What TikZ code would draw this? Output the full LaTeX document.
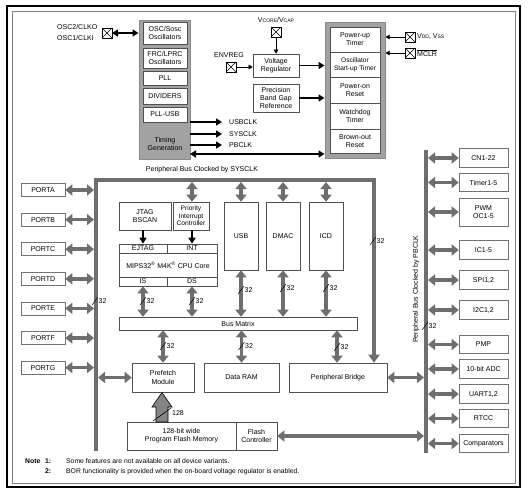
\documentclass[tikz,border=0pt]{standalone}
\usepackage{fontspec}
\setmainfont{Liberation Sans}
\usetikzlibrary{arrows.meta}
\definecolor{busgray}{HTML}{6E6E6E}
\definecolor{boxline}{HTML}{505050}
\definecolor{contfill}{HTML}{A2A2A2}
\definecolor{contline}{HTML}{8A8A8A}
\newcommand\smc[1]{{\fontsize{5}{6}\selectfont #1}}
\newcommand\buswidth[4]{\draw[line width=0.5pt] (#2-3,#3+4) -- (#2+3,#3-4); \node[anchor=west] (#1) at (#2+3.5,#3) {#4};}
\begin{document}
\begin{tikzpicture}[x=1pt,y=-1pt,
  every node/.style={font=\fontsize{7}{8.2}\selectfont, inner sep=0pt},
  box/.style={draw=boxline, line width=0.6pt, fill=white, align=center},
  pbox/.style={box, draw=boxline!80, minimum width=44pt, minimum height=13pt},
  rbox/.style={box, draw=boxline!80, minimum width=49pt, minimum height=18.5pt},
  cont/.style={draw=contline, line width=1pt, fill=contfill},
  gbus/.style={draw=busgray, line width=4pt},
  garrow/.style={draw=busgray, line width=3.6pt, {Triangle[width=11pt,length=7pt]}-{Triangle[width=11pt,length=7pt]}},
  barrow/.style={draw=black, line width=1.6pt, -{Triangle[width=7pt,length=6pt]}},
  bdarrow/.style={draw=black, line width=1.6pt, {Triangle[width=7pt,length=6pt]}-{Triangle[width=7pt,length=6pt]}},
  tarrow/.style={draw=black, line width=0.5pt, -{Triangle[width=4.5pt,length=4pt]}},
  xpad/.style={draw=black, line width=0.5pt, minimum size=9.5pt, path picture={\draw[line width=0.5pt] (path picture bounding box.south west) -- (path picture bounding box.north east) (path picture bounding box.north west) -- (path picture bounding box.south east);}}
]
\useasboundingbox (0,0) rectangle (528,499);
% frames
\draw[line width=1.4pt] (7,6) rectangle (520,487);
\draw[draw=gray, line width=0.6pt] (12,11) rectangle (515,483);

% ---------- Timing block ----------
\node[cont, minimum width=51pt, minimum height=139pt] (timing) at (164.5,89.5) {};
\node[box, minimum width=44pt, minimum height=22pt] (osc) at (165,33) {OSC/Sosc\\Oscillators};
\node[box, minimum width=44pt, minimum height=20pt] (frc) at (165,58) {FRC/LPRC\\Oscillators};
\node[box, minimum width=44pt, minimum height=14pt] (pll) at (165,78) {PLL};
\node[box, minimum width=44pt, minimum height=16pt] (div) at (165,96) {DIVIDERS};
\node[box, minimum width=44pt, minimum height=15pt] (pllusb) at (165,114.5) {PLL-USB};
\node[align=center] (tgen) at (165,144) {Timing\\Generation};

\node[anchor=west] (osc2) at (57,27) {OSC2/CLKO};
\node[anchor=west] (osc1) at (57,37.5) {OSC1/CLKI};
\node[xpad] (xosc) at (107,33) {};
\draw[bdarrow] (xosc.east) -- (xosc.east -| timing.west);

\coordinate (usbs) at (190,122);
\coordinate (syss) at (190,134);
\coordinate (pbs) at (190,145);
\node[anchor=west] (usbclk) at (229,122) {USBCLK};
\node[anchor=west] (sysclk) at (229,134) {SYSCLK};
\node[anchor=west] (pbclk) at (229,145) {PBCLK};
\draw[barrow] (usbs) -- (222,122);
\draw[barrow] (syss) -- (222,134);
\draw[barrow] (pbs) -- (222,145);

% ---------- Regulator ----------
\node[box, minimum width=46pt, minimum height=23pt] (vreg) at (276,65.5) {Voltage\\Regulator};
\node[box, minimum width=46pt, minimum height=28pt] (pbgr) at (276,98) {Precision\\Band Gap\\Reference};
\node (vcorelab) at (276,20) {V\smc{CORE}/V\smc{CAP}};
\node[xpad] (xvcore) at (276,32) {};
\draw[tarrow] (xvcore.south) -- (vreg.north);
\node (envreg) at (229,55) {ENVREG};
\node[xpad] (xenv) at (231,67) {};
\draw[tarrow] (xenv.east) -- (xenv.east -| vreg.west);

% ---------- Reset block ----------
\node[cont, minimum width=60pt, minimum height=136pt] (reset) at (355,90) {};
\node[box, minimum width=50pt, minimum height=25pt] (put) at (355,39.5) {Power-up\\Timer};
\node[box, minimum width=50pt, minimum height=25pt, font=\fontsize{6.6}{8}\selectfont] (ost) at (355,64.5) {Oscillator\\Start-up Timer};
\node[box, minimum width=50pt, minimum height=26pt] (por) at (355,90) {Power-on\\Reset};
\node[box, minimum width=50pt, minimum height=26pt] (wdt) at (355,116) {Watchdog\\Timer};
\node[box, minimum width=50pt, minimum height=24pt] (bor) at (355,141) {Brown-out\\Reset};

\draw[barrow] (vreg.east) -- (vreg.east -| reset.west);
\draw[barrow] (pbgr.east) -- (pbgr.east -| reset.west);
\coordinate (tgr) at (190,154);
\draw[bdarrow] (tgr) -- (tgr -| reset.west);

\node[xpad] (xvdd) at (410,37) {};
\node[anchor=west] (vddlab) at (417,37) {V\smc{DD}, V\smc{SS}};
\draw[tarrow] (xvdd.west) -- (xvdd.west -| reset.east);
\node[xpad] (xmclr) at (410,53) {};
\node[anchor=west] (mclrlab) at (417,53) {$\overline{\mbox{MCLR}}$};
\draw[tarrow] (xmclr.west) -- (xmclr.west -| reset.east);

% ---------- SYSCLK bus ----------
\node (sysbuslab) at (202,170) {Peripheral Bus Clocked by SYSCLK};
\coordinate (bl) at (96,451);
\coordinate (tl) at (96,180);
\coordinate (tr) at (374,180);
\node[box, minimum width=98pt, minimum height=29pt] (pbridge) at (338,377.5) {Peripheral Bridge};
\draw[gbus, line join=miter, -{Triangle[width=11pt,length=8pt]}] (bl) -- (tl) -- (tr) -- (tr |- pbridge.north);
\buswidth{w1}{95}{301}{32}
\buswidth{w2}{373}{241}{32}

% ports
\foreach \n/\y in {A/190,B/219.6,C/249.2,D/278.8,E/308.4,F/338,G/367.6}{
  \node[pbox] (port\n) at (43,\y) {PORT\n};
  \draw[garrow] (port\n.east) -- (94,\y);
}

% ---------- CPU area ----------
\node[box, minimum width=52pt, minimum height=28pt] (jtag) at (145,216) {JTAG\\BSCAN};
\node[box, minimum width=36pt, minimum height=28pt, font=\fontsize{6.6}{7.4}\selectfont] (pic) at (191,216) {Priority\\Interrupt\\Controller};
\node[box, minimum width=48pt, minimum height=9pt] (ejtag) at (143,248.5) {EJTAG};
\node[box, minimum width=50pt, minimum height=9pt] (int) at (192,248.5) {INT};
\node[box, minimum width=98pt, minimum height=24pt] (core) at (168,265) {MIPS32\textsuperscript{\textregistered} M4K\textsuperscript{\textregistered} CPU Core};
\node[box, minimum width=48pt, minimum height=9pt] (is) at (143,281.5) {IS};
\node[box, minimum width=50pt, minimum height=9pt] (ds) at (192,281.5) {DS};
\draw[barrow] (jtag.south -| ejtag.north) -- (ejtag.north);
\draw[barrow] (pic.south -| int.north) -- (int.north);

\node[box, minimum width=34pt, minimum height=68pt] (usb) at (241,236) {USB};
\node[box, minimum width=34pt, minimum height=68pt] (dmac) at (283,236) {DMAC};
\node[box, minimum width=34pt, minimum height=68pt] (icd) at (326,236) {ICD};
\node[box, minimum width=238pt, minimum height=13pt] (bm) at (238,323.5) {Bus Matrix};

\foreach \b in {int,usb,dmac,icd}{
  \draw[garrow] (\b.north |- 0,182) -- (\b.north |- pic.north);
}
\draw[garrow] (is.south) -- (is.south |- bm.north);
\draw[garrow] (ds.south) -- (ds.south |- bm.north);
\draw[garrow] (usb.south) -- (usb.south |- bm.north);
\draw[garrow] (dmac.south) -- (dmac.south |- bm.north);
\draw[garrow] (icd.south) -- (icd.south |- bm.north);
\buswidth{w3}{143}{301}{32}
\buswidth{w4}{192}{301}{32}
\buswidth{w5}{241}{290}{32}
\buswidth{w6}{283}{288}{32}
\buswidth{w7}{326}{288}{32}

\node[box, minimum width=62pt, minimum height=29pt] (pref) at (163,377.5) {Prefetch\\Module};
\node[box, minimum width=75pt, minimum height=29pt] (dram) at (241.5,377.5) {Data RAM};
\draw[garrow] (bm.south -| pref.north) -- (pref.north);
\draw[garrow] (bm.south -| dram.north) -- (dram.north);
\draw[garrow] (bm.south -| 337,0) -- (pbridge.north -| 337,0);
\buswidth{w8}{163}{346}{32}
\buswidth{w9}{241.5}{346}{32}
\buswidth{w10}{337}{347}{32}
\draw[garrow] (98,377.5) -- (pref.west);

\node[box, minimum width=109pt, minimum height=28pt] (flash) at (181.5,436) {128-bit wide\\Program Flash Memory};
\node[box, minimum width=41pt, minimum height=28pt] (fctl) at (256.5,436) {Flash\\Controller};
\draw[draw=black, line width=0.6pt, fill=busgray!85] (156,422) -- (156,407) -- (152,407) -- (162,392.5) -- (172,407) -- (168,407) -- (168,422) -- cycle;
\draw[line width=0.6pt] (153,421) -- (171,408);
\node[anchor=west] (w128) at (172,413) {128};

% ---------- PBCLK bus ----------
\coordinate (pbtop) at (426,150);
\coordinate (pbbot) at (426,453);
\draw[gbus] (pbtop) -- (pbbot);
\node[rotate=90] (pblab) at (416,289) {Peripheral Bus Clocked by PBCLK};
\buswidth{w11}{425}{326}{32}
\draw[garrow] (fctl.east) -- (424,436);
\draw[garrow] (pbridge.east) -- (424,377.5);

\foreach \nm/\y/\t in {cn/158/CN1-22,tmr/182.5/Timer1-5,ic/250/IC1-5,spi/280/{SPI1,2},i2c/310/{I2C1,2},pmp/344.5/PMP,adc/369/10-bit ADC,uart/394/{UART1,2},rtcc/418.5/RTCC,comp/443.5/Comparators}{
  \node[rbox] (\nm) at (483.5,\y) {\t};
  \draw[garrow] (428,\y) -- (\nm.west);
}
\node[rbox, minimum height=28pt] (pwm) at (483.5,212) {PWM\\OC1-5};
\draw[garrow] (428,212) -- (pwm.west);

% ---------- Notes ----------
\node[anchor=west, font=\fontsize{6.8}{8}\selectfont\bfseries] (note) at (25,461.5) {Note};
\node[anchor=west, font=\fontsize{6.8}{8}\selectfont\bfseries] (n1) at (45,461.5) {1:};
\node[anchor=west, font=\fontsize{6.8}{8}\selectfont\bfseries] (n2) at (45,471.5) {2:};
\node[anchor=west, font=\fontsize{6.8}{8}\selectfont] (t1) at (66,461.5) {Some features are not available on all device variants.};
\node[anchor=west, font=\fontsize{6.8}{8}\selectfont] (t2) at (66,471.5) {BOR functionality is provided when the on-board voltage regulator is enabled.};
\end{tikzpicture}
\end{document}
